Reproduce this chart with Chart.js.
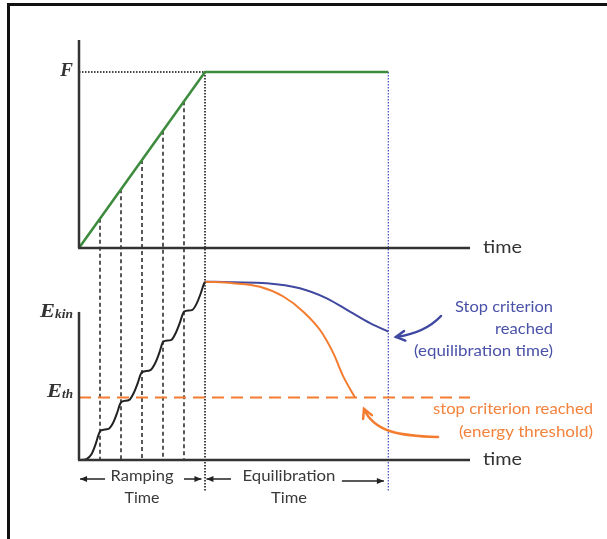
<!DOCTYPE html>
<html>
<head>
<meta charset="utf-8">
<script src="https://cdn.jsdelivr.net/npm/chart.js@4.4.1/dist/chart.umd.min.js"></script>
<style>
html, body { margin: 0; padding: 0; background: #fff; overflow: hidden; width: 607px; height: 539px; }
#frame { position: absolute; left: 7px; top: 3px; width: 700px; height: 700px; border: 3px solid #111; }
#c { position: absolute; left: 0; top: 0; }
</style>
</head>
<body>
<div id="frame"></div>
<canvas id="c" width="607" height="539"></canvas>
<script>
// force: ramped linearly up to F, then held
const forceT = [0, 6, 14.73];
const forceF = [0, 1, 1];

// kinetic energy during ramping (one step per force increment)
const stairT = [0, 0.35, 0.6, 0.8, 0.93, 1.03,
  1.4, 1.62, 1.82, 1.95, 2.03,
  2.4, 2.6, 2.8, 2.93, 3.0,
  3.4, 3.62, 3.82, 3.95, 4.01,
  4.4, 4.6, 4.8, 4.93, 5.0,
  5.4, 5.6, 5.8, 5.93, 6.0];
const stairE = [0, 0.03, 0.2, 0.55, 0.85, 0.99,
  1.05, 1.25, 1.6, 1.88, 1.96,
  2.03, 2.25, 2.6, 2.88, 2.96,
  3.03, 3.25, 3.6, 3.9, 3.99,
  4.05, 4.27, 4.62, 4.9, 5.0,
  5.06, 5.27, 5.62, 5.9, 6.01];

// equilibration, stopped after fixed time
const blueT = [6, 7.33, 8.94, 10.52, 11.8, 12.9, 13.86, 14.73];
const blueE = [6.01, 5.99, 5.96, 5.79, 5.45, 5.0, 4.61, 4.33];

// equilibration, stopped at energy threshold
const orangeT = [6, 7.33, 8.62, 9.73, 10.68, 11.48, 12.11, 12.59, 13.14];
const orangeE = [6.01, 5.96, 5.84, 5.51, 5.0, 4.38, 3.6, 2.81, 2.11];

const eThreshold = 2.11;
const rampSteps = [1, 2, 3, 4, 5];
const rampEnd = 6;
const stopTime = 14.73;

const pts = (xs, ys) => xs.map((x, i) => ({ x: x, y: ys[i] }));

function seg(ctx, x1, y1, x2, y2) {
  ctx.beginPath(); ctx.moveTo(x1, y1); ctx.lineTo(x2, y2); ctx.stroke();
}

function txt(ctx, s, x, y, align, font, color, width) {
  ctx.save();
  ctx.font = font; ctx.fillStyle = color; ctx.textBaseline = 'middle';
  const w = ctx.measureText(s).width;
  const k = width ? width / w : 1;
  let ox = 0;
  if (align === 'right') ox = -w * k;
  if (align === 'center') ox = -w * k / 2;
  ctx.translate(x + ox, y);
  ctx.scale(k, 1);
  ctx.textAlign = 'left';
  ctx.fillText(s, 0, 0);
  ctx.restore();
}

function barbs(ctx, tx, ty, ang, len) {
  ctx.beginPath();
  ctx.moveTo(tx + len * Math.cos(ang + 0.5), ty + len * Math.sin(ang + 0.5));
  ctx.lineTo(tx, ty);
  ctx.lineTo(tx + len * Math.cos(ang - 0.5), ty + len * Math.sin(ang - 0.5));
  ctx.stroke();
}

function hArrow(ctx, x1, x2, y) {
  seg(ctx, x1, y, x2, y);
  const d = x2 > x1 ? 1 : -1;
  ctx.beginPath();
  ctx.moveTo(x2, y); ctx.lineTo(x2 - d * 7, y - 3); ctx.lineTo(x2 - d * 7, y + 3);
  ctx.closePath(); ctx.fill();
}

const sketch = {
  id: 'sketch',
  beforeDatasetsDraw(chart) {
    const { ctx, scales: { x, yTop, yBot } } = chart;
    const base = yBot.getPixelForValue(0);
    ctx.save();
    // dashed guides from force ramp down to energy axis
    ctx.strokeStyle = '#222'; ctx.lineWidth = 1.5; ctx.setLineDash([4, 3]);
    rampSteps.forEach(t => {
      const px = x.getPixelForValue(t);
      seg(ctx, px, yTop.getPixelForValue(t / rampEnd), px, base);
    });
    // dotted markers
    ctx.setLineDash([1.5, 1.5]); ctx.strokeStyle = '#444'; ctx.lineWidth = 2;
    const fy = yTop.getPixelForValue(1);
    seg(ctx, x.getPixelForValue(0), fy, x.getPixelForValue(rampEnd), fy);
    seg(ctx, x.getPixelForValue(rampEnd), fy, x.getPixelForValue(rampEnd), base + 31);
    ctx.strokeStyle = '#4d58c8'; ctx.lineWidth = 1.3;
    seg(ctx, x.getPixelForValue(stopTime), fy, x.getPixelForValue(stopTime), base + 32);
    ctx.restore();
  },
  afterDatasetsDraw(chart) {
    const { ctx, scales: { x, yTop, yBot } } = chart;
    const x0 = x.getPixelForValue(0), x1 = x.getPixelForValue(x.max);
    const base = yBot.getPixelForValue(0), topBase = yTop.getPixelForValue(0);
    ctx.save();
    // axes
    ctx.strokeStyle = '#333'; ctx.lineWidth = 2.5; ctx.lineCap = 'butt';
    seg(ctx, x0, yTop.getPixelForValue(yTop.max), x0, topBase);
    seg(ctx, x0 - 1, topBase, x1, topBase);
    seg(ctx, x0, yBot.getPixelForValue(4.99), x0, base);
    seg(ctx, x0 - 1, base, x1, base);

    // axis labels
    const serif = '"Liberation Serif", "DejaVu Serif", serif';
    txt(ctx, 'F', x0 - 6, yTop.getPixelForValue(1) - 1, 'right', 'italic bold 19px ' + serif, '#333');
    txt(ctx, 'E', 40, 312, 'left', 'italic bold 19px ' + serif, '#333', 15);
    txt(ctx, 'kin', 55, 315, 'left', 'italic bold 13px ' + serif, '#333', 18);
    txt(ctx, 'E', 47, 392, 'left', 'italic bold 19px ' + serif, '#333', 15);
    txt(ctx, 'th', 62, 395, 'left', 'italic bold 13px ' + serif, '#333', 11);
    const sans = 'Lato, "Liberation Sans", sans-serif';
    txt(ctx, 'time', x1 + 13, topBase - 1, 'left', '18px ' + sans, '#333', 39);
    txt(ctx, 'time', x1 + 13, base - 1, 'left', '18px ' + sans, '#333', 39);

    // stop annotations
    const blue = '#4a52a8', orange = '#f3823d';
    txt(ctx, 'Stop criterion', 553, 307, 'right', '16px ' + sans, blue, 98);
    txt(ctx, 'reached', 553, 329, 'right', '16px ' + sans, blue, 58);
    txt(ctx, '(equilibration time)', 553, 351, 'right', '16px ' + sans, blue, 139);
    txt(ctx, 'stop criterion reached', 593, 409, 'right', '16px ' + sans, orange, 160);
    txt(ctx, '(energy threshold)', 593, 432, 'right', '16px ' + sans, orange, 134);

    // curved pointer arrows
    ctx.lineWidth = 2.5; ctx.lineCap = 'round';
    ctx.strokeStyle = '#3f48a0';
    ctx.beginPath(); ctx.moveTo(441, 316); ctx.quadraticCurveTo(425, 333, 396, 337); ctx.stroke();
    barbs(ctx, 396, 337, Math.atan2(337 - 333, 396 - 425) + Math.PI, 10);
    ctx.strokeStyle = '#f47c30';
    ctx.beginPath(); ctx.moveTo(438, 437); ctx.bezierCurveTo(400, 436, 374, 432, 364, 409); ctx.stroke();
    barbs(ctx, 364, 409, Math.atan2(409 - 432, 364 - 374) + Math.PI, 10);

    // time spans under the axis
    ctx.strokeStyle = '#222'; ctx.fillStyle = '#222'; ctx.lineWidth = 1.5; ctx.lineCap = 'butt';
    const ay = base + 19;
    hArrow(ctx, x.getPixelForValue(1.24), x.getPixelForValue(0.05), ay);
    hArrow(ctx, x.getPixelForValue(5.0), x.getPixelForValue(5.83), ay);
    hArrow(ctx, x.getPixelForValue(7.24), x.getPixelForValue(6.07), ay);
    hArrow(ctx, x.getPixelForValue(12.52), x.getPixelForValue(14.52), ay + 2);
    txt(ctx, 'Ramping', x.getPixelForValue(3), base + 16, 'center', '16px ' + sans, '#3a3a3a', 63);
    txt(ctx, 'Time', x.getPixelForValue(3), base + 38, 'center', '16px ' + sans, '#3a3a3a', 35);
    txt(ctx, 'Equilibration', x.getPixelForValue(10), base + 16, 'center', '16px ' + sans, '#3a3a3a', 93);
    txt(ctx, 'Time', x.getPixelForValue(10), base + 38, 'center', '16px ' + sans, '#3a3a3a', 36);
    ctx.restore();
  }
};

new Chart(document.getElementById('c'), {
  type: 'line',
  data: {
    datasets: [
      { data: pts(forceT, forceF), yAxisID: 'yTop', borderColor: '#3d8b3d', borderWidth: 2.5, tension: 0 },
      { data: pts([0, 18.62], [eThreshold, eThreshold]), yAxisID: 'yBot', borderColor: '#f47c30', borderWidth: 2, borderDash: [12, 7] },
      { data: pts(stairT, stairE), yAxisID: 'yBot', borderColor: '#222', borderWidth: 2, cubicInterpolationMode: 'monotone' },
      { data: pts(orangeT, orangeE), yAxisID: 'yBot', borderColor: '#f47c30', borderWidth: 2, cubicInterpolationMode: 'monotone' },
      { data: pts(blueT, blueE), yAxisID: 'yBot', borderColor: '#4048a0', borderWidth: 2, cubicInterpolationMode: 'monotone' }
    ]
  },
  options: {
    responsive: false,
    animation: false,
    events: [],
    layout: { padding: { left: 79, top: 40, right: 137, bottom: 79 } },
    elements: { point: { radius: 0 } },
    plugins: { legend: { display: false }, tooltip: { enabled: false } },
    scales: {
      x: { type: 'linear', min: 0, max: 18.62, display: false },
      yBot: { type: 'linear', position: 'left', stack: 'plots', stackWeight: 212, min: 0, max: 7.145, display: false },
      yTop: { type: 'linear', position: 'left', stack: 'plots', stackWeight: 208, min: 0, max: 1.1818, display: false }
    }
  },
  plugins: [sketch]
});
</script>
</body>
</html>
